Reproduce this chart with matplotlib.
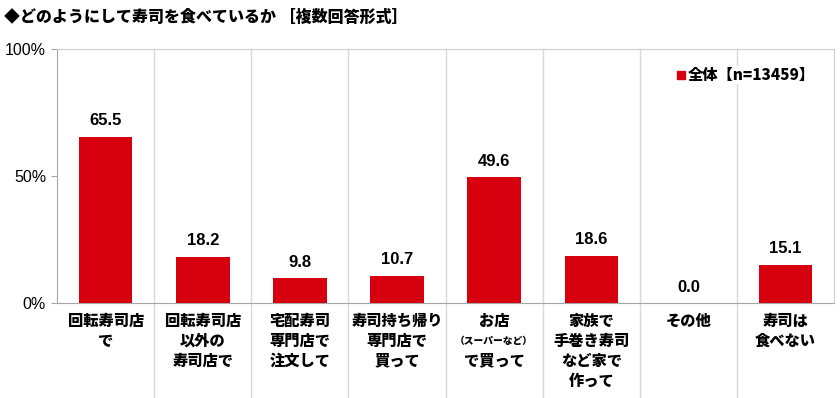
import matplotlib.pyplot as plt
from matplotlib.transforms import blended_transform_factory, offset_copy

plt.rcParams['font.family'] = ['Noto Sans CJK JP', 'DejaVu Sans']

title = '◆どのようにして寿司を食べているか ［複数回答形式］'
legend_label = '全体【n=13459】'

# category labels, line by line ((text, small?) pairs)
categories = [
    [('回転寿司店', False), ('で', False)],
    [('回転寿司店', False), ('以外の', False), ('寿司店で', False)],
    [('宅配寿司', False), ('専門店で', False), ('注文して', False)],
    [('寿司持ち帰り', False), ('専門店で', False), ('買って', False)],
    [('お店', False), ('（スーパーなど）', True), ('で買って', False)],
    [('家族で', False), ('手巻き寿司', False), ('など家で', False), ('作って', False)],
    [('その他', False)],
    [('寿司は', False), ('食べない', False)],
]
values = [65.5, 18.2, 9.8, 10.7, 49.6, 18.6, 0.0, 15.1]
yticks = [0, 50, 100]
ytick_labels = ['0%', '50%', '100%']

bar_color = '#d7000f'
grid_color = '#d9d9d9'

fig = plt.figure(figsize=(8.4, 3.98), dpi=100)
ax = fig.add_axes([0.068, 0.2387, 0.925, 0.6383])

x = list(range(len(values)))
ax.bar(x, values, width=0.55, color=bar_color, zorder=3)
ax.set_xlim(-0.5, len(values) - 0.5)
ax.set_ylim(0, 100)

for xi, v in zip(x, values):
    ax.annotate(f'{v:.1f}', (xi, v), xytext=(0, 6), textcoords='offset points',
                ha='center', va='bottom', fontsize=12, fontweight='bold',
                family=['Liberation Sans', 'DejaVu Sans'], zorder=4)

# separators between categories, running down through the label area
for i in range(1, len(values)):
    ax.plot([i - 0.5, i - 0.5], [1, -0.38], color=grid_color, lw=1,
            transform=blended_transform_factory(ax.transData, ax.transAxes),
            clip_on=False, zorder=1)

trans = blended_transform_factory(ax.transData, ax.transAxes)
for xi, lines in zip(x, categories):
    for j, (txt, small) in enumerate(lines):
        t = offset_copy(trans, fig=fig, x=0, y=-(13 + 14.4 * j), units='points')
        ax.text(xi, 0, txt, transform=t, ha='center', va='center',
                fontsize=7 if small else 11, fontweight='heavy')

ax.set_yticks(yticks)
ax.set_yticklabels(ytick_labels, family=['Liberation Sans', 'DejaVu Sans'], fontsize=11.5)
ax.set_xticks([])
ax.tick_params(axis='y', length=4, color='#a6a6a6', pad=4)

for side in ['left', 'bottom']:
    ax.spines[side].set_color('#a6a6a6')
for side in ['top', 'right']:
    ax.spines[side].set_color('#cfcfcf')

# legend
ax.plot([0.803], [0.897], marker='s', markersize=5.5, color=bar_color,
        transform=ax.transAxes, clip_on=False, zorder=5)
ax.text(0.812, 0.897, legend_label, transform=ax.transAxes, ha='left', va='center',
        fontsize=11, fontweight='heavy', zorder=5,
        bbox=dict(facecolor='white', edgecolor='none', pad=1))

fig.text(0.005, 0.958, title, ha='left', va='center', fontsize=11.5, fontweight='heavy')

fig.savefig('out.png', dpi=100)
